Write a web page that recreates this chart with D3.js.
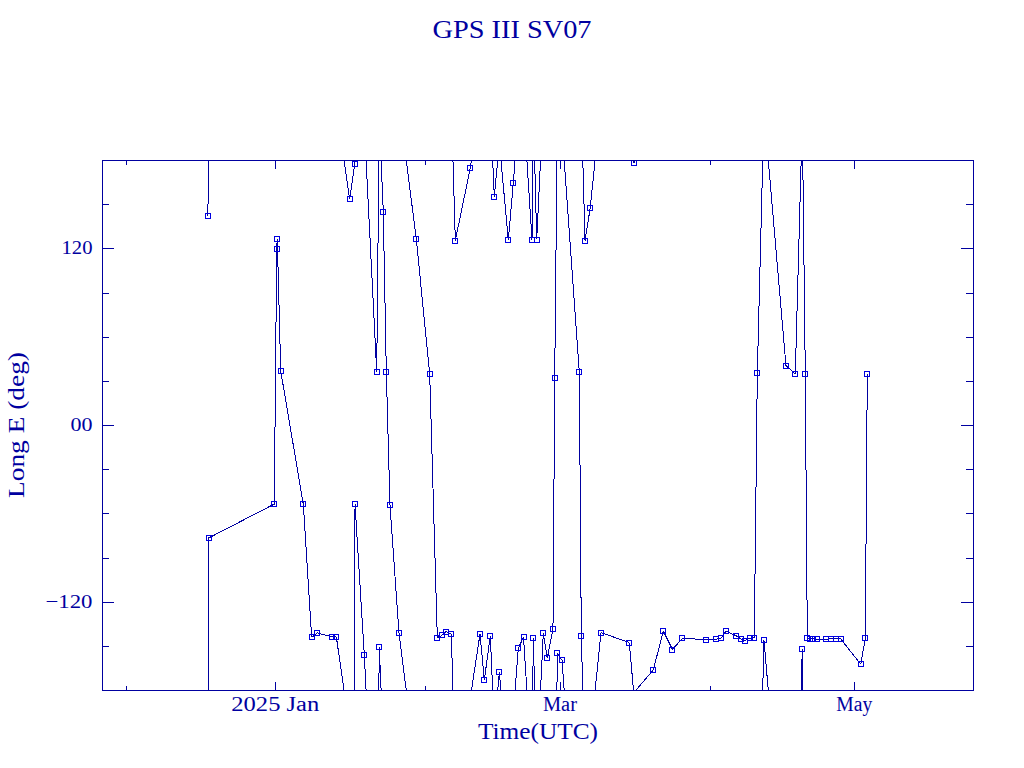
<!DOCTYPE html>
<html>
<head>
<meta charset="utf-8">
<script src="https://cdn.jsdelivr.net/npm/d3@7"></script>
<style>
  html, body { margin: 0; padding: 0; background: #ffffff; }
  svg { display: block; }
  text { font-family: "Liberation Serif", "DejaVu Serif", serif; fill: #0000a0; }
</style>
</head>
<body>
<svg id="chart" width="1024" height="768"></svg>
<script>
// ---------------- data ----------------
const chartTitle = "GPS III SV07";
const xTitle = "Time(UTC)";
const yTitle = "Long E (deg)";

// observation epochs (UTC)
const times = [
  "2024-12-18T01:12", "2024-12-18T03:50", "2024-12-31T19:00", "2025-01-01T07:00",
  "2025-01-01T09:50", "2025-01-02T03:00", "2025-01-06T19:12", "2025-01-08T13:00",
  "2025-01-09T16:48", "2025-01-12T16:34", "2025-01-13T15:22", "2025-01-16T10:05",
  "2025-01-17T11:02", "2025-01-17T12:29", "2025-01-19T10:48", "2025-01-22T00:29",
  "2025-01-22T13:12", "2025-01-23T09:07", "2025-01-24T00:14", "2025-01-24T18:29",
  "2025-01-26T15:22", "2025-01-30T05:17", "2025-02-02T00:00", "2025-02-03T13:55",
  "2025-02-04T14:38", "2025-02-05T09:07", "2025-02-06T11:31", "2025-02-07T07:26",
  "2025-02-10T09:50", "2025-02-12T10:19", "2025-02-13T07:41", "2025-02-14T13:26",
  "2025-02-15T09:22", "2025-02-16T10:19", "2025-02-18T06:58", "2025-02-19T07:55",
  "2025-02-20T08:38", "2025-02-21T10:34", "2025-02-23T04:48", "2025-02-23T11:17",
  "2025-02-24T04:19", "2025-02-25T12:58", "2025-02-26T08:53", "2025-02-27T13:12",
  "2025-02-27T21:50", "2025-02-28T10:48", "2025-03-01T10:05", "2025-03-05T00:14",
  "2025-03-05T10:05", "2025-03-06T04:34", "2025-03-07T06:43", "2025-03-09T12:00",
  "2025-03-15T08:53", "2025-03-16T06:43", "2025-03-20T08:10", "2025-03-22T09:50",
  "2025-03-24T07:41", "2025-03-26T08:24", "2025-03-31T07:55", "2025-04-02T09:36",
  "2025-04-03T08:53", "2025-04-04T09:50", "2025-04-06T10:05", "2025-04-07T11:02",
  "2025-04-08T06:58", "2025-04-09T09:07", "2025-04-10T06:29", "2025-04-10T21:36",
  "2025-04-12T06:43", "2025-04-16T20:10", "2025-04-18T18:29", "2025-04-20T05:17",
  "2025-04-20T20:10", "2025-04-21T06:14", "2025-04-21T19:41", "2025-04-22T09:07",
  "2025-04-23T07:55", "2025-04-25T03:07", "2025-04-26T02:38", "2025-04-27T05:02",
  "2025-04-28T04:19", "2025-05-02T07:55", "2025-05-03T06:43", "2025-05-03T16:34"
];

// longitude east (deg), in [-180, 180]
const longE = [
  142.1, -76.8, -53.7, 119.7,
  126.5, 36.7, -53.7, -144.3,
  -141.2, -143.9, -143.7, 153.2,
  177.5, -53.7, -156.4, 36.0,
  -151.0, 144.8, 36.0, -54.4,
  -141.6, 126.3, 34.7, -144.4,
  -142.8, -140.3, -142.1, 125.3,
  174.5, -141.9, -173.2, -143.3,
  155.0, -168.1, 125.6, 164.5,
  -151.6, -144.1, 125.8, -144.8,
  126.0, -141.6, -158.4, -138.7,
  31.8, -155.2, -159.8, 36.0,
  -143.5, 125.3, 147.7, -141.0,
  -147.8, 178.1, -166.4, -140.0,
  -152.5, -145.0, -145.7, -145.5,
  -144.8, -140.0, -143.0, -145.3,
  -146.4, -144.8, -144.6, 35.1,
  -146.2, 40.3, 34.7, -152.3,
  34.9, -144.8, -145.3, -145.3,
  -145.5, -145.5, -145.3, -145.3,
  -145.3, -162.5, -145.0, 34.6
];

const xDomain = ["2024-11-26T02:00", "2025-05-25T14:24"];
const yDomain = [-180, 180];

const xMajorTicks = ["2025-01-01", "2025-03-01", "2025-05-01"];
const xMajorLabels = ["2025 Jan", "Mar", "May"];
const xMinorTicks = ["2024-12-01", "2025-02-01", "2025-04-01"];

const yMajorTicks = [-120, 0, 120];
const yMajorLabels = ["\u2212120", "00", "120"];
const yMinorTicks = [-150, -90, -60, -30, 30, 60, 90, 150];

// ---------------- drawing ----------------
const parse = s => new Date(s + "Z");
const W = 1024, H = 768;
const L = 102, R = 973, T = 160, B = 690;
const ink = "#0000a0";
const markInk = "#0000e0";

const svg = d3.select("#chart");

const x = d3.scaleUtc().domain(xDomain.map(parse)).range([L, R]);
const y = d3.scaleLinear().domain(yDomain).range([B, T]);

svg.append("defs").append("clipPath").attr("id", "plotclip")
  .append("rect").attr("x", L).attr("y", T).attr("width", R - L).attr("height", B - T);

// data lines with longitude wrap (shortest path between consecutive epochs)
const pts = times.map((t, i) => ({ t: parse(t), lon: longE[i] }));
const segs = [];
for (let i = 0; i < pts.length - 1; i++) {
  const a = pts[i], b = pts[i + 1];
  let d = b.lon - a.lon;
  if (d > 180) d -= 360;
  if (d < -180) d += 360;
  const end = a.lon + d;
  segs.push([[a.t, a.lon], [b.t, end]]);
  if (end > 180) segs.push([[a.t, a.lon - 360], [b.t, end - 360]]);
  if (end < -180) segs.push([[a.t, a.lon + 360], [b.t, end + 360]]);
}
const line = d3.line().x(d => x(d[0])).y(d => y(d[1]));
svg.append("g").attr("clip-path", "url(#plotclip)")
  .selectAll("path").data(segs).join("path")
  .attr("d", line)
  .attr("fill", "none")
  .attr("stroke", ink)
  .attr("stroke-width", 1)
  .attr("shape-rendering", "crispEdges");

// markers (open squares)
const ms = 5;
svg.append("g").selectAll("rect").data(pts).join("rect")
  .attr("x", d => Math.round(x(d.t)) - 2.5)
  .attr("y", d => Math.round(y(d.lon)) - 2.5)
  .attr("width", ms).attr("height", ms)
  .attr("fill", "none")
  .attr("stroke", markInk)
  .attr("stroke-width", 1)
  .attr("shape-rendering", "crispEdges");

// frame
svg.append("rect")
  .attr("x", L + 0.5).attr("y", T + 0.5)
  .attr("width", R - L).attr("height", B - T)
  .attr("fill", "none").attr("stroke", ink).attr("stroke-width", 1)
  .attr("shape-rendering", "crispEdges");

// axes (inward ticks on all four sides)
function styleAxis(g) {
  g.select(".domain").remove();
  g.selectAll("line").attr("stroke", ink).attr("shape-rendering", "crispEdges");
}
const xMaj = xMajorTicks.map(parse), xMin = xMinorTicks.map(parse);

svg.append("g").attr("transform", `translate(0,${B})`)
  .call(d3.axisBottom(x).tickValues(xMaj).tickSize(-8).tickFormat(() => ""))
  .call(styleAxis);
svg.append("g").attr("transform", `translate(0,${B})`)
  .call(d3.axisBottom(x).tickValues(xMin).tickSize(-4).tickFormat(() => ""))
  .call(styleAxis);
svg.append("g").attr("transform", `translate(0,${T})`)
  .call(d3.axisTop(x).tickValues(xMaj).tickSize(-9).tickFormat(() => ""))
  .call(styleAxis);
svg.append("g").attr("transform", `translate(0,${T})`)
  .call(d3.axisTop(x).tickValues(xMin).tickSize(-5).tickFormat(() => ""))
  .call(styleAxis);

svg.append("g").attr("transform", `translate(${L},0)`)
  .call(d3.axisLeft(y).tickValues(yMajorTicks).tickSize(-12).tickFormat(() => ""))
  .call(styleAxis);
svg.append("g").attr("transform", `translate(${L},0)`)
  .call(d3.axisLeft(y).tickValues(yMinorTicks).tickSize(-7).tickFormat(() => ""))
  .call(styleAxis);
svg.append("g").attr("transform", `translate(${R},0)`)
  .call(d3.axisRight(y).tickValues(yMajorTicks).tickSize(-12).tickFormat(() => ""))
  .call(styleAxis);
svg.append("g").attr("transform", `translate(${R},0)`)
  .call(d3.axisRight(y).tickValues(yMinorTicks).tickSize(-7).tickFormat(() => ""))
  .call(styleAxis);

// tick labels
const xLabelWidths = [88, 34, 36];
svg.append("g").selectAll("text").data(xMaj).join("text")
  .attr("x", d => x(d)).attr("y", 711)
  .attr("text-anchor", "middle")
  .attr("font-size", 20)
  .attr("textLength", (d, i) => xLabelWidths[i])
  .attr("lengthAdjust", "spacingAndGlyphs")
  .text((d, i) => xMajorLabels[i]);

const yLabelWidths = [47, 22, 31];
svg.append("g").selectAll("text").data(yMajorTicks).join("text")
  .attr("x", 92.5).attr("y", d => y(d) + 6)
  .attr("text-anchor", "end")
  .attr("font-size", 19)
  .attr("textLength", (d, i) => yLabelWidths[i])
  .attr("lengthAdjust", "spacingAndGlyphs")
  .text((d, i) => yMajorLabels[i]);

// titles
svg.append("text").attr("x", 512).attr("y", 38)
  .attr("text-anchor", "middle").attr("font-size", 25)
  .attr("textLength", 159).attr("lengthAdjust", "spacingAndGlyphs")
  .text(chartTitle);
svg.append("text").attr("x", 538).attr("y", 739)
  .attr("text-anchor", "middle").attr("font-size", 24)
  .attr("textLength", 120).attr("lengthAdjust", "spacingAndGlyphs")
  .text(xTitle);
svg.append("text")
  .attr("transform", "translate(23.5,425) rotate(-90)")
  .attr("text-anchor", "middle").attr("font-size", 24)
  .attr("textLength", 146).attr("lengthAdjust", "spacingAndGlyphs")
  .text(yTitle);
</script>
</body>
</html>
